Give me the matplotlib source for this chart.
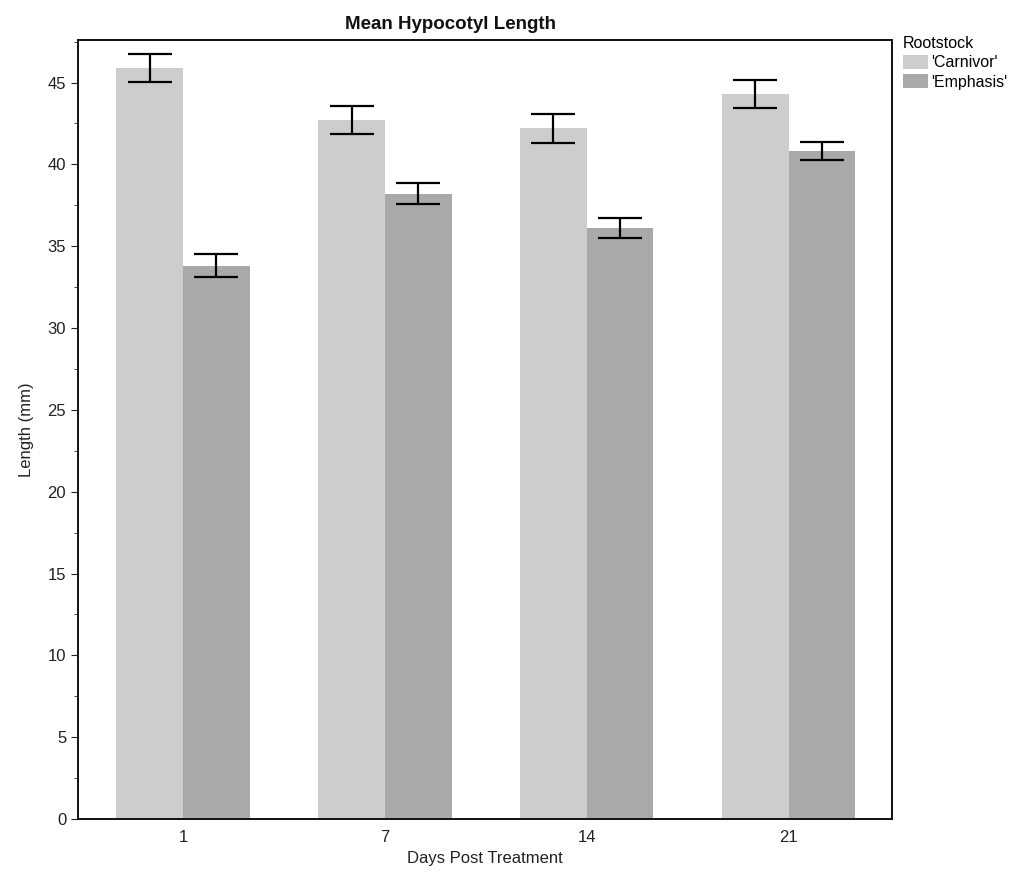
import matplotlib
matplotlib.use("Agg")
import matplotlib.pyplot as plt
import numpy as np
from matplotlib.ticker import MultipleLocator

plt.rcParams['font.family'] = ['Liberation Sans', 'DejaVu Sans']

# data
days = ['1', '7', '14', '21']
carnivor = [45.9, 42.7, 42.2, 44.3]
carnivor_err = [0.85, 0.85, 0.9, 0.85]
emphasis = [33.8, 38.2, 36.1, 40.8]
emphasis_err = [0.7, 0.65, 0.6, 0.55]

fig = plt.figure(figsize=(10.32, 8.77), dpi=100)
ax = fig.add_axes([0.0756, 0.0661, 0.7884, 0.8883])

x = np.arange(len(days))
w = 0.33

ax.bar(x - w / 2, carnivor, w, color='#cdcdcd', label="'Carnivor'")
ax.bar(x + w / 2, emphasis, w, color='#a9a9a9', label="'Emphasis'")
ax.errorbar(x - w / 2, carnivor, yerr=carnivor_err, fmt='none', ecolor='black',
            elinewidth=1.6, capsize=16, capthick=1.6)
ax.errorbar(x + w / 2, emphasis, yerr=emphasis_err, fmt='none', ecolor='black',
            elinewidth=1.6, capsize=16, capthick=1.6)

ax.set_xlim(-0.52, 3.51)
ax.set_ylim(0, 47.6)
ax.set_xticks(x)
ax.set_xticklabels(days)
ax.yaxis.set_major_locator(MultipleLocator(5))
ax.yaxis.set_minor_locator(MultipleLocator(2.5))
ax.tick_params(axis='x', length=0, labelsize=12, pad=8, colors='#222222')
ax.tick_params(axis='y', which='major', length=5, labelsize=12, colors='#222222')
ax.tick_params(axis='y', which='minor', length=3, color='#222222')

for s in ax.spines.values():
    s.set_linewidth(1.4)
    s.set_color('#111111')

ax.set_xlabel('Days Post Treatment', fontsize=12, color='#222222', labelpad=4)
ax.set_ylabel('Length (mm)', fontsize=12, color='#222222', labelpad=10)

fig.text(0.437, 0.972, 'Mean Hypocotyl Length', ha='center', va='center',
         fontsize=13.5, fontweight='bold', color='#111111')

leg = ax.legend(title='Rootstock', loc='upper left', bbox_to_anchor=(1.0, 1.02),
                frameon=False, fontsize=11.5, title_fontsize=11.5,
                handlelength=1.6, handleheight=1.0, handletextpad=0.2,
                borderaxespad=0.3, labelspacing=0.25)
leg._legend_box.align = 'left'

fig.savefig('out.png', dpi=100)
